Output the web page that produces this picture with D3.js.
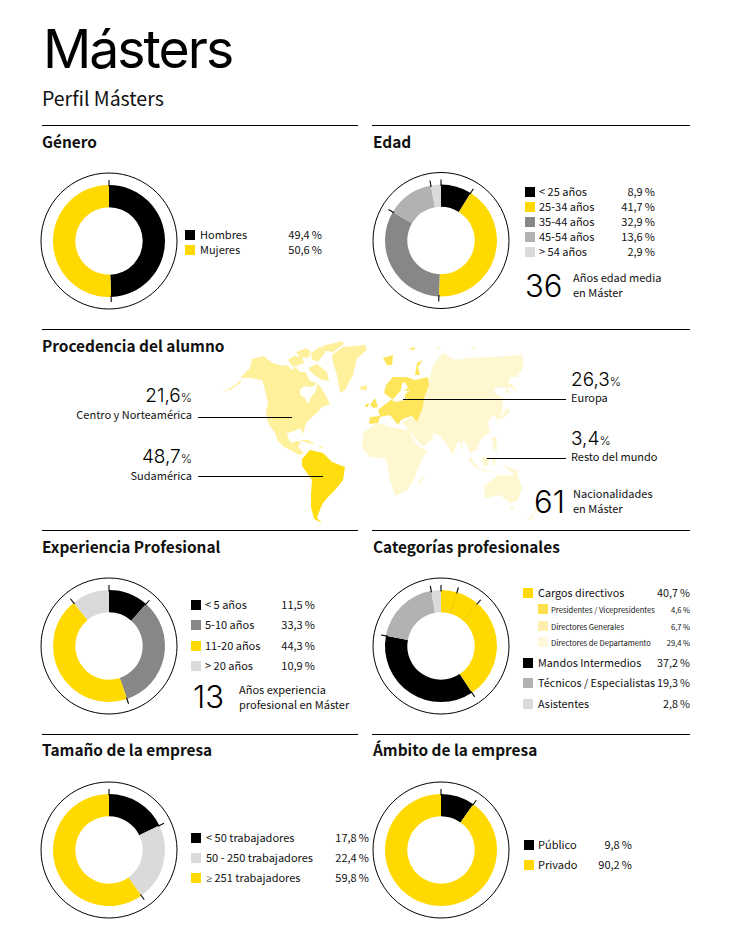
<!DOCTYPE html>
<html lang="es"><head><meta charset="utf-8">
<script src="https://cdnjs.cloudflare.com/ajax/libs/d3/7.8.5/d3.min.js"></script>
<style>html,body{margin:0;padding:0;background:#fff}svg{display:block}
text{font-family:"Noto Sans CJK SC","Noto Sans",sans-serif;fill:#111}
.h{font-weight:700}
.big{font-family:"Inter","Liberation Sans",sans-serif;font-weight:300;fill:#000}
</style></head><body><svg id="c" width="730" height="941"></svg>
<script>
// ---------- chart values ----------
const generoLabels=["Hombres","Mujeres"];
const generoValues=[49.4,50.6];
const edadLabels=["< 25 años","25-34 años","35-44 años","45-54 años","> 54 años"];
const edadValues=[8.9,41.7,32.9,13.6,2.9];
const expLabels=["< 5 años","5-10 años","11-20 años","> 20 años"];
const expValues=[11.5,33.3,44.3,10.9];
const catLabels=["Cargos directivos","Mandos Intermedios","Técnicos / Especialistas","Asistentes"];
const catValues=[40.7,37.2,19.3,2.8];
const catSubLabels=["Presidentes / Vicepresidentes","Directores Generales","Directores de Departamento"];
const catSubValues=[4.6,6.7,29.4];
const tamLabels=["< 50 trabajadores","50 - 250 trabajadores","≥ 251 trabajadores"];
const tamValues=[17.8,22.4,59.8];
const ambLabels=["Público","Privado"];
const ambValues=[9.8,90.2];
const regionLabels=["Centro y Norteamérica","Sudamérica","Europa","Resto del mundo"];
const regionValues=["21,6","48,7","26,3","3,4"];
// ---------- traced map outlines ----------
const mapNorthAmerica=[
[[223,392],[232,389],[240,383],[242,376],[250,368],[252,359],[263,356],[273,363],[283,366],[288,365],[291,370],[296,367],[300,372],[306,372],[309,380],[316,383],[320,386],[324,392],[330,404],[322,407],[318,412],[312,417],[306,423],[304,430],[303,434],[300,428],[294,431],[287,433],[288,438],[291,443],[297,441],[301,442],[298,447],[304,453],[299,455],[292,451],[284,447],[278,441],[275,433],[270,426],[267,420],[266,410],[268,403],[265,390],[262,380],[250,378],[243,378],[235,385]],
[[288,360],[294,356],[302,357],[304,363],[299,365],[293,367]],
[[296,352],[306,348],[311,352],[308,358],[300,357]],
[[311,353],[320,347],[326,349],[324,354],[318,362],[312,359]],
[[322,346],[342,341],[344,344],[333,352],[326,351]],
[[308,368],[317,364],[327,372],[329,381],[322,380],[313,374]],
[[300,440],[308,440],[316,444],[308,443]],[[318,446],[323,446],[322,448]]];
const mapHudson=[[[300,389],[305,386],[312,387],[318,383],[315,392],[311,397],[308,404],[305,398],[300,395]]];
const mapGreenland=[[[332,355],[343,347],[365,345],[367,350],[357,358],[353,375],[345,390],[340,393],[337,375],[333,363]],[[359,387],[367,385],[367,390],[361,390]]];
const mapSouthAmerica=[[[302,459],[310,450],[323,453],[332,462],[345,467],[343,480],[335,490],[328,497],[323,503],[319,512],[317,518],[322,523],[314,519],[311,507],[311,495],[312,480],[302,466]]];
const mapEurope=[
[[369,424],[370,417],[380,416],[378,410],[388,402],[392,399],[384,393],[386,385],[393,377],[407,377],[415,380],[428,377],[429,385],[424,398],[423,407],[417,422],[412,416],[405,418],[401,420],[398,425],[394,420],[390,415],[380,417],[378,423]],
[[370,405],[375,398],[378,407],[373,408]],[[366,404],[369,403],[368,407],[365,407]],
[[415,375],[417,363],[423,360],[418,367],[420,375]],
[[383,358],[393,355],[392,365],[387,365]],[[408,349],[415,347],[414,350]]];
const mapBaltic=[[[405,382],[408,388],[404,391],[410,391],[405,394],[405,400],[395,402],[392,400],[396,396],[401,390],[402,384]]];
const mapRest=[
[[430,377],[432,368],[437,360],[443,353],[455,360],[470,358],[493,357],[523,355],[523,368],[517,377],[510,377],[508,383],[513,385],[517,393],[512,388],[505,387],[495,388],[495,393],[503,398],[502,412],[498,420],[493,415],[488,422],[490,432],[480,440],[477,450],[470,453],[466,443],[461,441],[465,455],[462,448],[458,440],[453,455],[445,442],[440,436],[433,433],[433,438],[423,447],[410,432],[404,424],[402,422],[412,417],[417,422],[423,407],[424,398],[429,385]],
[[363,433],[377,423],[390,427],[400,429],[408,430],[417,445],[423,449],[427,450],[417,470],[415,478],[407,490],[395,496],[390,480],[387,463],[385,458],[370,457],[362,448]],
[[425,473],[420,485],[418,483],[422,477]],
[[484,487],[498,475],[505,476],[512,475],[516,469],[522,488],[518,500],[510,503],[500,495],[485,498]],
[[510,506],[514,506],[512,510]],[[527,520],[535,513],[532,519]],[[534,508],[537,510],[535,513]],
[[470,457],[480,469],[476,468],[468,460]],[[482,457],[490,458],[488,466],[483,466]],[[481,469],[495,472],[482,471]],[[492,458],[497,458],[494,466]],[[492,437],[496,437],[497,452],[493,448]],[[503,465],[520,472],[510,472]],
[[507,408],[510,411],[505,417],[495,421],[503,414]],[[505,385],[510,393],[506,393]],[[436,345],[442,349],[438,349]],[[470,347],[477,347],[474,350]]];
// ---------- palette ----------
const K="#000",Y="#FFD900",G1="#878787",G2="#B2B2B2",G3="#DADADA";
const svg=d3.select("#c");
function txt(x,y,s,o={}){const t=svg.append("text").attr("x",x).attr("y",y).attr("font-size",o.size||11);
  if(s.startsWith("≥")){t.append("tspan").style("font-family",'"Noto Sans"').text("≥");t.append("tspan").text(s.slice(1));} else t.text(s);
  if(o.anchor)t.attr("text-anchor",o.anchor); if(o.cls)t.attr("class",o.cls); return t;}
function rule(x1,x2,y){svg.append("line").attr("x1",x1).attr("x2",x2).attr("y1",y).attr("y2",y).attr("stroke","#000").attr("stroke-width",1);}
function head(x,y,s){txt(x,y,s,{cls:"h",size:15.4});}
const R=56,r0=33.7,RO=68;
function donut(cx,cy,vals,cols,extra=[]){
  const g=svg.append("g").attr("transform",`translate(${cx},${cy})`);
  g.append("circle").attr("r",RO).attr("fill","none").attr("stroke","#000").attr("stroke-width",1);
  const pie=d3.pie().sort(null).value(d=>d)(vals);
  const arc=d3.arc().innerRadius(r0).outerRadius(R);
  g.selectAll("path").data(pie).join("path").attr("d",arc).attr("fill",(d,i)=>cols[i]);
  const total=d3.sum(vals);
  const ang=d3.scaleLinear().domain([0,total]).range([0,2*Math.PI]);
  const bounds=[0,...d3.cumsum(vals).slice(0,-1)];
  const tick=(v,a,b,col,w)=>{const t=ang(v);
    g.append("line").attr("x1",a*Math.sin(t)).attr("y1",-a*Math.cos(t)).attr("x2",b*Math.sin(t)).attr("y2",-b*Math.cos(t)).attr("stroke",col).attr("stroke-width",w);};
  bounds.concat(extra).forEach(v=>tick(v,R-1.5,R+5,"#000",1.1));
  extra.forEach(v=>tick(v,r0,R,"#EAC400",0.6));
}
function legend(rows,sx,tx,vx,size,sw=10){rows.forEach(d=>{
  svg.append("rect").attr("x",sx).attr("y",d.y).attr("width",sw).attr("height",sw).attr("fill",d.c);
  txt(tx,d.y+sw-.6,d.l,{size});
  txt(vx,d.y+sw-.6,d.v+"\u2009%",{size,anchor:"end"});
});}
const fmt=v=>String(v).replace(".",",");
function rows(labels,vals,cols,ys){return labels.map((l,i)=>({l,v:fmt(vals[i]),c:cols[i],y:ys[i]}));}

// rules + headers
rule(42,358,125.5);rule(372,690,125.5);rule(42,690,329.5);rule(42,358,530.5);rule(372,690,530.5);rule(42,358,734.5);rule(372,690,734.5);
txt(43,67.5,"Másters",{cls:"big",size:53.5}).attr("letter-spacing",-2).style("font-weight",400);
txt(42,105.5,"Perfil Másters",{size:19.5});
head(42,148,"Género");head(373,148,"Edad");head(42,352,"Procedencia del alumno");
head(42,553,"Experiencia Profesional");head(373,553,"Categorías profesionales");
head(42,756,"Tamaño de la empresa");head(373,756,"Ámbito de la empresa");

// map
const geo=d3.geoPath(d3.geoIdentity());
[[mapNorthAmerica,"#FFF09C"],[mapHudson,"#fff"],[mapGreenland,"#FFF09C"],[mapRest,"#FFF7CF"],[mapEurope,"#FFE55A"],[mapBaltic,"#fff"],[mapSouthAmerica,"#FFDD0F"]].forEach(([m,c])=>{
  svg.append("path").attr("fill",c).attr("d",geo({type:"MultiPolygon",coordinates:m.map(p=>[[...p,p[0]]])}));
});
function big(x,y,n,anchor){const t=txt(x,y,"",{cls:"big",size:19,anchor});t.append("tspan").text(n);t.append("tspan").attr("font-size",12).text("%");}
function leader(x1,x2,y){svg.append("line").attr("x1",x1).attr("x2",x2).attr("y1",y).attr("y2",y).attr("stroke","#000").attr("stroke-width",1);}
const ms=11;
big(192,402,regionValues[0],"end");txt(192,419,regionLabels[0],{size:ms,anchor:"end"});leader(198,292,417.5);
big(192,463,regionValues[1],"end");txt(192,479.5,regionLabels[1],{size:ms,anchor:"end"});leader(198,323,476.5);
big(571,386,regionValues[2]);txt(571,401.5,regionLabels[2],{size:ms});leader(403,566,399.5);
big(571,445,regionValues[3]);txt(571,461,regionLabels[3],{size:ms});leader(487,566,458.5);
txt(534,513,"61",{cls:"big",size:31});txt(573,498,"Nacionalidades",{size:ms});txt(573,513,"en Máster",{size:ms});

// donuts
donut(109,241,generoValues,[K,Y]);
legend(rows(generoLabels,generoValues,[K,Y],[230,245]),185,200,322,11);
donut(441,240.5,edadValues,[K,Y,G1,G2,G3]);
legend(rows(edadLabels,edadValues,[K,Y,G1,G2,G3],[187,202,217,232,247]),525,539,655,11);
txt(525,297,"36",{cls:"big",size:31});txt(573,282,"Años edad media",{size:ms});txt(573,297,"en Máster",{size:ms});
donut(109,646,expValues,[K,G1,Y,G3]);
legend(rows(expLabels,expValues,[K,G1,Y,G3],[600,620,641,661]),191,205,315,11);
txt(193,708,"13",{cls:"big",size:31});txt(239,694,"Años experiencia",{size:11});txt(239,709,"profesional en Máster",{size:11});
donut(441,646,catValues,[Y,K,G2,G3],[catSubValues[0],catSubValues[0]+catSubValues[1]]);
legend(rows(catLabels,catValues,[Y,K,G2,G3],[588,658,678,699]),523,538,690,10.8);
const subCols=["#FFE04D","#FFEFAE","#FFF7D9"];
legend(rows(catSubLabels,catSubValues,subCols,[604,621,637]),538,551,690,7.6);
donut(109,850,tamValues,[K,G3,Y]);
legend(rows(tamLabels,tamValues,[K,G3,Y],[833,853,873]),191,206,369,11);
donut(441,850,ambValues,[K,Y]);
legend(rows(ambLabels,ambValues,[K,Y],[840,860]),524,538,632,11);
</script></body></html>
